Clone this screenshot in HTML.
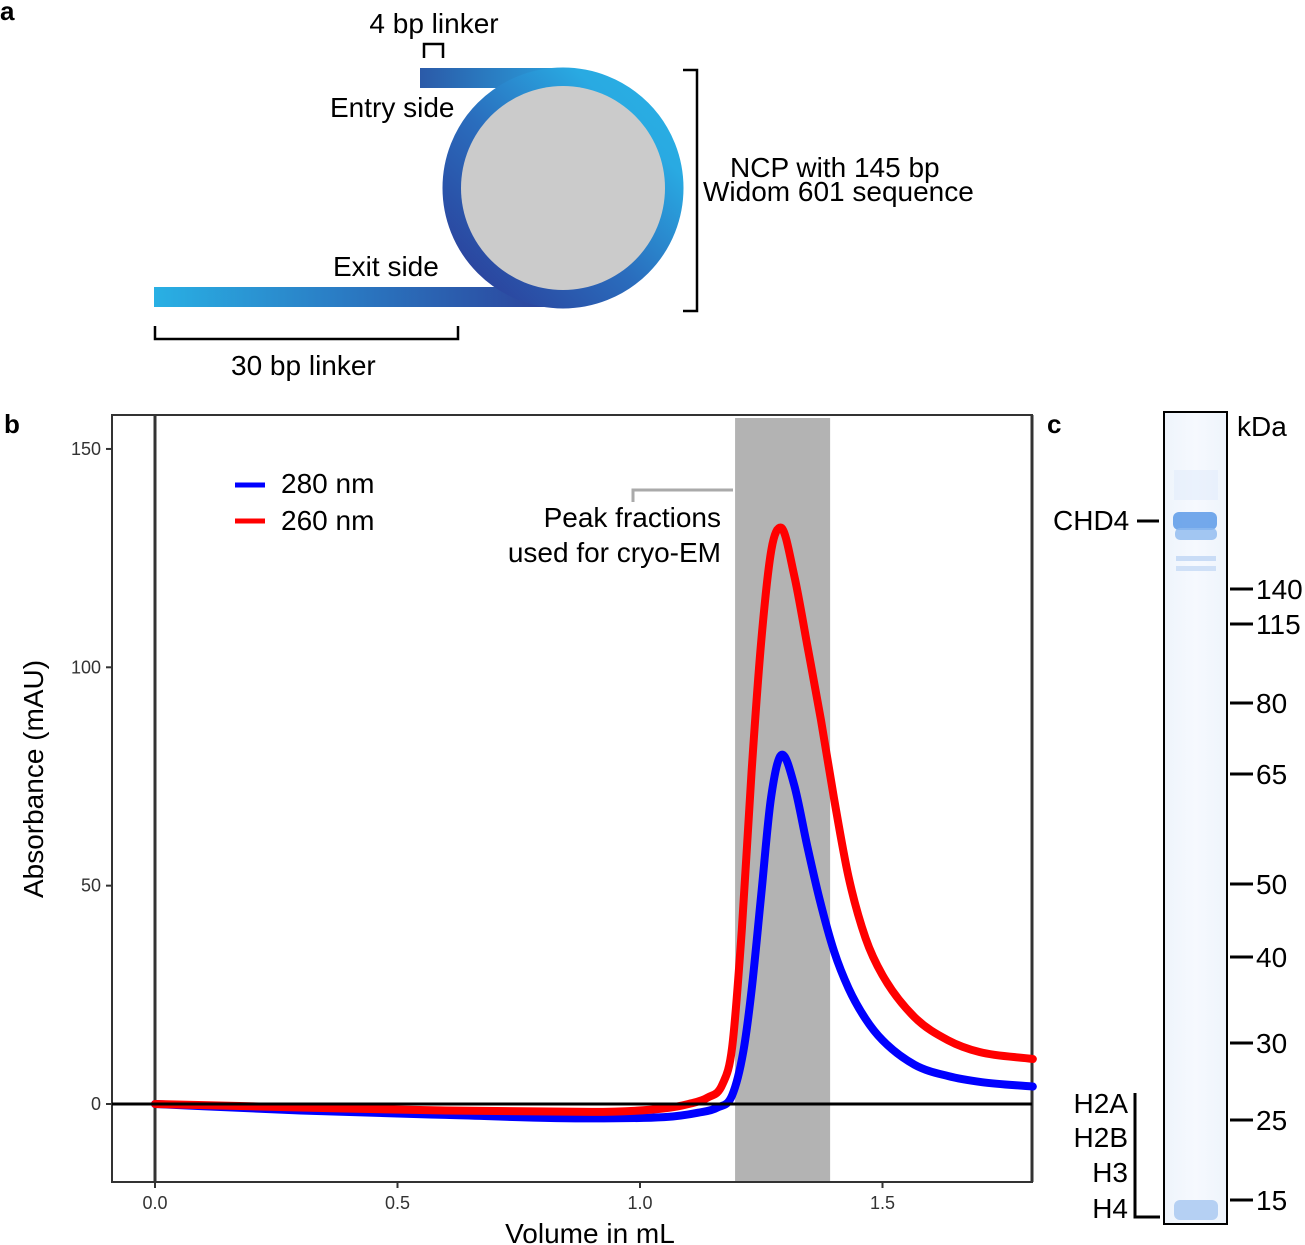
<!DOCTYPE html>
<html><head><meta charset="utf-8"><style>
body{margin:0;background:#fff;}
svg{display:block;font-family:"Liberation Sans",Arial,sans-serif;}
</style></head><body>
<svg width="1305" height="1245" viewBox="0 0 1305 1245">
<defs>
<linearGradient id="ringG" x1="0" y1="1" x2="1" y2="0">
<stop offset="0" stop-color="#2b3a96"/><stop offset="0.45" stop-color="#2a6dbd"/><stop offset="0.8" stop-color="#29aae2"/><stop offset="1" stop-color="#29b0e4"/></linearGradient>
<linearGradient id="topG" x1="0" x2="1"><stop offset="0" stop-color="#2b5aa8"/><stop offset="1" stop-color="#29a0dc"/></linearGradient>
<linearGradient id="botG" x1="0" x2="1"><stop offset="0" stop-color="#29b0e4"/><stop offset="0.45" stop-color="#2a7cc4"/><stop offset="1" stop-color="#2c3f98"/></linearGradient>
<linearGradient id="laneG" x1="0" x2="1"><stop offset="0" stop-color="#eef4fc"/><stop offset="0.5" stop-color="#f6f9fe"/><stop offset="1" stop-color="#eef4fc"/></linearGradient>
</defs>

<g>
<text x="0" y="20" font-size="26" font-weight="bold">a</text>
<rect x="420" y="68" width="145" height="20" fill="url(#topG)"/>
<rect x="154" y="287" width="412" height="20" fill="url(#botG)"/>
<circle cx="563" cy="188" r="110" fill="none" stroke="url(#ringG)" stroke-width="21"/>
<circle cx="563" cy="188" r="102" fill="#cbcbcb"/>
<path d="M424 58 V44 H443 V58" fill="none" stroke="#000" stroke-width="2.5"/>
<g font-size="28">
<text x="434" y="33" text-anchor="middle">4 bp linker</text>
<text x="330" y="117">Entry side</text>
<text x="333" y="276">Exit side</text>
<text x="730" y="177">NCP with 145 bp</text>
<text x="703" y="201">Widom 601 sequence</text>
<text x="231" y="375">30 bp linker</text>
</g>
<path d="M683 70 H697 V311 H683" fill="none" stroke="#000" stroke-width="2.5"/>
<path d="M155 326 V339 H458 V326" fill="none" stroke="#000" stroke-width="2.5"/>
</g>

<g>
<text x="4" y="433" font-size="26" font-weight="bold">b</text>
<g id="chart"></g>
</g>

<g>
<text x="1047" y="433" font-size="26" font-weight="bold">c</text>
<rect x="1164" y="412" width="63" height="812" fill="url(#laneG)"/>
<rect x="1174" y="470" width="44" height="30" fill="#e3edfb" opacity="0.6"/>
<rect x="1173" y="512" width="44" height="18" rx="6" fill="#5c9ae8" opacity="0.85"/>
<rect x="1175" y="528" width="42" height="12" rx="5" fill="#8db9ef" opacity="0.8"/>
<rect x="1176" y="556" width="40" height="5" fill="#c9dcf6"/>
<rect x="1176" y="566" width="40" height="5" fill="#cfe0f7"/>
<rect x="1174" y="1200" width="44" height="20" rx="6" fill="#b5d0f3"/>
<rect x="1164" y="412" width="63" height="812" fill="none" stroke="#000" stroke-width="2"/>
<text x="1237" y="436" font-size="28">kDa</text>
<text x="1053" y="530" font-size="28">CHD4</text>
<line x1="1137" y1="521" x2="1159" y2="521" stroke="#000" stroke-width="3"/>
<g id="markers"></g>
<g font-size="28" text-anchor="end">
<text x="1128" y="1113">H2A</text>
<text x="1128" y="1147">H2B</text>
<text x="1128" y="1182">H3</text>
<text x="1128" y="1218">H4</text>
</g>
<path d="M1135 1093 V1217 H1160" fill="none" stroke="#000" stroke-width="3"/>
</g>
</svg>
<script>
const NS="http://www.w3.org/2000/svg";
const markerLabels=["140","115","80","65","50","40","30","25","15"];
const markerY=[589,624,703,774,884,957,1043,1120,1200];
const mg=document.getElementById('markers');
markerLabels.forEach((l,i)=>{
  const ln=document.createElementNS(NS,'line');
  ln.setAttribute('x1',1230);ln.setAttribute('x2',1253);ln.setAttribute('y1',markerY[i]);ln.setAttribute('y2',markerY[i]);
  ln.setAttribute('stroke','#000');ln.setAttribute('stroke-width',3);
  
  
  mg.appendChild(ln);
  const t=document.createElementNS(NS,'text');
  t.setAttribute('x',1256);t.setAttribute('y',markerY[i]+10);t.setAttribute('font-size',28);
  t.textContent=l;
  
  
  mg.appendChild(t);
});

const xTicks=[0,0.5,1.0,1.5];
const xTickLabels=["0.0","0.5","1.0","1.5"];
const yTicks=[0,50,100,150];
const peakRange=[1.196,1.392];
const vol280=[0,0.3,0.6,0.9,1.05,1.12,1.16,1.19,1.213,1.23,1.25,1.27,1.293,1.318,1.345,1.37,1.4,1.43,1.465,1.5,1.566,1.635,1.705,1.81];
const abs280=[0,-1.5,-2.5,-3.3,-3,-2,-0.8,2,12,26,48,70,80,73,59,47,35,26.5,19.5,14.6,9,6.4,5,4];
const vol260=[0,0.3,0.6,0.9,1.05,1.1,1.14,1.17,1.19,1.21,1.23,1.25,1.271,1.29,1.318,1.345,1.373,1.4,1.43,1.465,1.5,1.565,1.635,1.70,1.81];
const abs260=[0,-0.8,-1.5,-1.8,-1,0,1.5,4.5,13,40,76,106,127,132,121,105,88,70,52,38,29.5,20,14.6,11.9,10.3];

const X=v=>155+v*485, Y=a=>1104-a*4.367;
const g=document.getElementById('chart');
function el(tag,attrs){const e=document.createElementNS(NS,tag);for(const k in attrs)e.setAttribute(k,attrs[k]);g.appendChild(e);return e;}
let e;
e=el('rect',{x:X(peakRange[0]),y:418,width:X(peakRange[1])-X(peakRange[0]),height:764,fill:'#b3b3b3'});


e=el('rect',{x:112,y:415,width:920,height:767,fill:'none',stroke:'#333','stroke-width':2});


e=el('line',{x1:1032,y1:415,x2:1032,y2:1182,stroke:'#333','stroke-width':3});


e=el('line',{x1:X(0),y1:415,x2:X(0),y2:1182,stroke:'#333','stroke-width':3});


xTicks.forEach((v,i)=>{
  e=el('line',{x1:X(v),x2:X(v),y1:1182,y2:1188,stroke:'#333','stroke-width':2});
  
  
  e=el('text',{x:X(v),y:1209,'font-size':18,'text-anchor':'middle',fill:'#333'});e.textContent=xTickLabels[i];
  
  
});
yTicks.forEach(v=>{
  e=el('line',{x1:106,x2:112,y1:Y(v),y2:Y(v),stroke:'#333','stroke-width':2});
  
  
  e=el('text',{x:101,y:Y(v)+6,'font-size':18,'text-anchor':'end',fill:'#333'});e.textContent=String(v);
  
  
});
e=el('text',{x:590,y:1243,'font-size':28,'text-anchor':'middle'});e.textContent='Volume in mL';


e=el('text',{x:0,y:0,'font-size':28,'text-anchor':'middle',transform:'translate(43,779) rotate(-90)'});e.textContent='Absorbance (mAU)';



function smooth(xs,ys){
  const n=xs.length,d=[],m=[];
  for(let i=0;i<n-1;i++)d.push((ys[i+1]-ys[i])/(xs[i+1]-xs[i]));
  m[0]=d[0];m[n-1]=d[n-2];
  for(let i=1;i<n-1;i++)m[i]=(d[i-1]*d[i]<=0)?0:(d[i-1]+d[i])/2;
  for(let i=0;i<n-1;i++){
    if(d[i]===0){m[i]=0;m[i+1]=0;continue;}
    const a=m[i]/d[i],b=m[i+1]/d[i],s=a*a+b*b;
    if(s>9){const t=3/Math.sqrt(s);m[i]=t*a*d[i];m[i+1]=t*b*d[i];}
  }
  let p='M'+X(xs[0])+' '+Y(ys[0]);
  for(let i=0;i<n-1;i++){
    const h=xs[i+1]-xs[i];
    p+=` C${X(xs[i]+h/3)} ${Y(ys[i]+m[i]*h/3)} ${X(xs[i+1]-h/3)} ${Y(ys[i+1]-m[i+1]*h/3)} ${X(xs[i+1])} ${Y(ys[i+1])}`;
  }
  return p;
}
e=el('path',{d:smooth(vol280,abs280),fill:'none',stroke:'#0000ff','stroke-width':8,'stroke-linejoin':'round','stroke-linecap':'round'});


e=el('path',{d:smooth(vol260,abs260),fill:'none',stroke:'#ff0000','stroke-width':8,'stroke-linejoin':'round','stroke-linecap':'round'});


e=el('line',{x1:112,x2:1032,y1:Y(0),y2:Y(0),stroke:'#000','stroke-width':3});



e=el('line',{x1:235,x2:265,y1:485,y2:485,stroke:'#0000ff','stroke-width':5});


e=el('text',{x:281,y:493,'font-size':28});e.textContent='280 nm';


e=el('line',{x1:235,x2:265,y1:521,y2:521,stroke:'#ff0000','stroke-width':5});


e=el('text',{x:281,y:530,'font-size':28});e.textContent='260 nm';



e=el('path',{d:'M633 502 V490 H733',fill:'none',stroke:'#aaa','stroke-width':3});


e=el('text',{x:721,y:527,'font-size':28,'text-anchor':'end'});e.textContent='Peak fractions';


e=el('text',{x:721,y:562,'font-size':28,'text-anchor':'end'});e.textContent='used for cryo-EM';


</script>
</body></html>
